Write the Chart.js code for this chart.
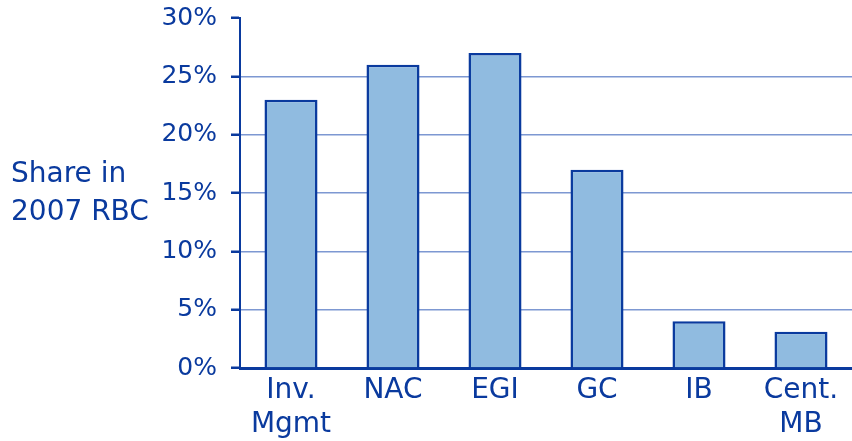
<!DOCTYPE html>
<html>
<head>
<meta charset="utf-8">
<script src="https://cdn.jsdelivr.net/npm/chart.js@4/dist/chart.umd.min.js"></script>
<style>
  html, body { margin: 0; padding: 0; background: #fff; }
  #wrap { width: 852px; height: 441px; }
</style>
</head>
<body>
<div id="wrap"><canvas id="shareChart"></canvas></div>
<script>
// categories and values (share in 2007 RBC, %)
const categories = [["Inv.", "Mgmt"], "NAC", "EGI", "GC", "IB", ["Cent.", "MB"]];
const shareValues = [23, 26, 27, 17, 4, 3.1];
const yTitleLines = ["Share in", "2007 RBC"];

const dark = "#0a3a9e";
const gridBlue = "#7d98d2";
const fill = "#90bbe0";
const font = "'DejaVu Sans', 'Noto Sans', sans-serif";

// draws the horizontal y axis title to the left of the tick labels
const yTitlePlugin = {
    id: "yTitle",
    afterDraw(chart) {
        const ctx = chart.ctx;
        ctx.save();
        ctx.fillStyle = dark;
        ctx.font = "28px " + font;
        ctx.textBaseline = "middle";
        ctx.textAlign = "left";
        ctx.fillText(yTitleLines[0], 11, 175);
        ctx.fillText(yTitleLines[1], 11, 213);
        ctx.restore();
    }
};

new Chart(document.getElementById("shareChart"), {
    type: "bar",
    data: {
        labels: categories,
        datasets: [{
            data: shareValues,
            backgroundColor: fill,
            borderColor: dark,
            borderWidth: 2.5,
            borderSkipped: "bottom",
            categoryPercentage: 1,
            barPercentage: 0.52
        }]
    },
    options: {
        responsive: true,
        maintainAspectRatio: false,
        animation: false,
        layout: { padding: { top: 18, right: 0, left: 0, bottom: 0 } },
        plugins: {
            legend: { display: false },
            tooltip: { enabled: false }
        },
        scales: {
            x: {
                grid: { display: false, drawTicks: false },
                border: { color: dark, width: 3 },
                ticks: {
                    color: dark,
                    font: { family: font, size: 28, lineHeight: 1.2 },
                    padding: 6,
                    maxRotation: 0
                },
                afterFit(scale) { scale.height = 73; }
            },
            y: {
                min: 0,
                max: 30,
                ticks: {
                    stepSize: 5,
                    color: dark,
                    font: { family: font, size: 25 },
                    padding: 14,
                    callback: v => v + "%"
                },
                grid: {
                    color: c => (c.tick.value === 0 || c.tick.value === 30) ? "rgba(0,0,0,0)" : gridBlue,
                    lineWidth: 1.5,
                    tickColor: dark,
                    tickLength: 9,
                    tickWidth: 2.5
                },
                border: { color: dark, width: 2 },
                afterFit(scale) {
                    scale.width = 240;
                    scale.paddingTop = 0;
                    scale.paddingBottom = 0;
                }
            }
        }
    },
    plugins: [yTitlePlugin]
});
</script>
</body>
</html>
